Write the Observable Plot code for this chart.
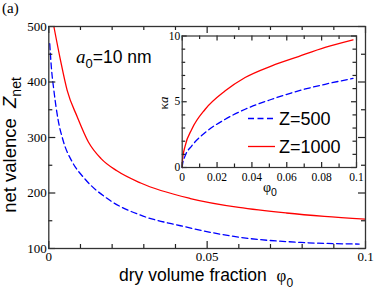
<!DOCTYPE html>
<html><head><meta charset="utf-8">
<script src="https://cdn.jsdelivr.net/npm/d3@7"></script>
<script src="https://cdn.jsdelivr.net/npm/@observablehq/plot@0.6"></script>
<style>
body{margin:0;background:#fff}
#c{position:relative;width:374px;height:291px;overflow:hidden}
#c svg{position:absolute}
</style>
</head><body><div id="c"></div>
<script>
// ---- main panel data: net valence vs dry volume fraction ----
const mainPhi1000 = [0.0016,0.0037,0.0058,0.009,0.0125,0.0165,0.0215,0.029,0.0447,0.06,0.075,0.087,0.1];
const mainZ1000   = [500,439,385,337,292,262,240,218,190,174,164,158,153];
const mainPhi500  = [0.0003,0.0008,0.0016,0.003,0.0045,0.0075,0.011,0.0195,0.029,0.0416,0.0605,0.0795,0.098];
const mainZ500    = [469,427,385,330,295,255,228,186,160,141,120,111,108];
// ---- inset data: kappa*a vs phi0 ----
const insetPhi     = [0,0.0002,0.0017,0.0055,0.0132,0.0247,0.0361,0.0514,0.0667,0.082,0.098];
const insetKa1000  = [0,0.63,1.65,2.91,4.43,5.83,6.84,7.73,8.44,9.13,9.71];
const insetKa500   = [0,0.25,0.89,1.65,2.66,3.67,4.43,5.19,5.83,6.33,6.77];
// ---- ticks ----
const mainXMajor = [0,0.05,0.1];
const mainXMinor = [0.01,0.02,0.03,0.04,0.06,0.07,0.08,0.09];
const mainYMajor = [100,200,300,400,500];
const mainYMinor = [150,250,350,450];
const insetXMajor = [0,0.02,0.04,0.06,0.08,0.1];
const insetXMinor = [0.01,0.03,0.05,0.07,0.09];
const insetYMajor = [0,5,10];
const insetYMinor = [1,2,3,4,6,7,8,9];
const seriesLabels = ["Z=500","Z=1000"];

const RED = "#ff0000", BLUE = "#0000ff", AX = "#333", TK = "#222";
const SANS = "'Liberation Sans',Arial,Helvetica,sans-serif";
const SERIF = "'Liberation Serif','DejaVu Serif','Times New Roman',serif";
const fmt = d => String(d);

// inward ticks on all four sides, as rules clipped to a few pixels by insets
function tickMarks(xMaj, xMin, yMaj, yMin, lMaj, lMin, fw, fh) {
  const r = {stroke: TK, strokeWidth: 1.2};
  const xs = (t, L) => [
    Plot.ruleX(t, {...r, x: d => d, insetTop: fh - L}),
    Plot.ruleX(t, {...r, x: d => d, insetBottom: fh - L})
  ];
  const ys = (t, L) => [
    Plot.ruleY(t, {...r, y: d => d, insetRight: fw - L}),
    Plot.ruleY(t, {...r, y: d => d, insetLeft: fw - L})
  ];
  return [...xs(xMin, lMin), ...xs(xMaj, lMaj), ...ys(yMin, lMin), ...ys(yMaj, lMaj)];
}
function tickLabels(xMaj, yMaj, fs, padX, padY) {
  return [
    Plot.axisX(xMaj, {label: null, anchor: "bottom", tickSize: 0, tickPadding: padX, tickFormat: fmt, fontSize: fs, fontFamily: SERIF, fill: "#000"}),
    Plot.axisY(yMaj, {label: null, anchor: "left", tickSize: 0, tickPadding: padY, tickFormat: fmt, fontSize: fs, fontFamily: SERIF, fill: "#000"})
  ];
}

const M = {w: 374, h: 291, l: 48.3, r: 9, t: 26, b: 43};
const main = Plot.plot({
  width: M.w, height: M.h,
  marginLeft: M.l, marginRight: M.r, marginTop: M.t, marginBottom: M.b,
  style: {background: "transparent", fontFamily: SERIF, fontSize: "13px", color: "#000", overflow: "visible"},
  x: {domain: [0, 0.1], axis: null},
  y: {domain: [100, 500], axis: null},
  marks: [
    Plot.line(mainZ500, {x: mainPhi500, y: mainZ500, stroke: BLUE, strokeWidth: 1.3, strokeDasharray: "6,3.5", curve: "monotone-x", clip: true}),
    Plot.line(mainZ1000, {x: mainPhi1000, y: mainZ1000, stroke: RED, strokeWidth: 1.3, curve: "monotone-x", clip: true}),
    ...tickMarks(mainXMajor, mainXMinor, mainYMajor, mainYMinor, 7, 4, M.w - M.l - M.r, M.h - M.t - M.b),
    ...tickLabels(mainXMajor, mainYMajor, 13, 3, 2),
    Plot.frame({stroke: AX, strokeWidth: 1.3})
  ]
});
main.style.left = "0px"; main.style.top = "0px";

const I = {w: 215, h: 175, l: 31.7, r: 9, t: 10.5, b: 33};
const inset = Plot.plot({
  width: I.w, height: I.h,
  marginLeft: I.l, marginRight: I.r, marginTop: I.t, marginBottom: I.b,
  style: {background: "transparent", fontFamily: SERIF, fontSize: "11.5px", color: "#000", overflow: "visible"},
  x: {domain: [0, 0.1], axis: null},
  y: {domain: [0, 10], axis: null},
  marks: [
    Plot.frame({fill: "white", stroke: null}),
    Plot.line(insetKa500, {x: insetPhi, y: insetKa500, stroke: BLUE, strokeWidth: 1.3, strokeDasharray: "6,3.5", curve: "monotone-x"}),
    Plot.line(insetKa1000, {x: insetPhi, y: insetKa1000, stroke: RED, strokeWidth: 1.3, curve: "monotone-x"}),
    ...tickMarks(insetXMajor, insetXMinor, insetYMajor, insetYMinor, 5, 3.5, I.w - I.l - I.r, I.h - I.t - I.b),
    ...tickLabels(insetXMajor, insetYMajor, 11.5, 5, 2),
    Plot.frame({stroke: AX, strokeWidth: 1.2})
  ]
});
inset.style.left = "150px"; inset.style.top = "25px";

const c = document.getElementById("c");
c.appendChild(main);
c.appendChild(inset);

// ---- text overlay (labels, annotation, legend) ----
const ov = d3.select(c).append("svg").attr("width", 374).attr("height", 291)
  .style("left", "0px").style("top", "0px").style("overflow", "visible");

ov.append("text").attr("x", 2).attr("y", 13).attr("font-family", SERIF).attr("font-size", 15).text("(a)");

const ann = ov.append("text").attr("x", 76).attr("y", 63).attr("font-family", SANS).attr("font-size", 17.5);
ann.append("tspan").attr("font-family", SERIF).attr("font-style", "italic").attr("font-size", 19).text("a");
ann.append("tspan").attr("font-size", 13).attr("dy", 5).text("0");
ann.append("tspan").attr("dy", -5).text("=10 nm");

const xl = ov.append("text").attr("x", 119).attr("y", 281).attr("font-family", SANS).attr("font-size", 17.5);
xl.append("tspan").text("dry volume fraction\u00a0\u00a0");
xl.append("tspan").attr("font-family", SERIF).attr("font-size", 17).text("\u03c6");
xl.append("tspan").attr("font-size", 12).attr("dy", 6).text("0");

const yl = ov.append("text").attr("transform", "translate(16,145) rotate(-90)").attr("text-anchor", "middle")
  .attr("font-family", SANS).attr("font-size", 18.5);
yl.append("tspan").text("net valence\u00a0\u00a0");
yl.append("tspan").attr("font-style", "italic").text("Z");
yl.append("tspan").attr("font-size", 14).attr("dy", 5).text("net");

const kl = ov.append("text").attr("transform", "translate(168,103) rotate(-90)").attr("text-anchor", "middle")
  .attr("font-family", SERIF).attr("font-size", 13);
kl.append("tspan").text("\u03ba");
kl.append("tspan").attr("font-style", "italic").text("a");

const pl = ov.append("text").attr("x", 263).attr("y", 192).attr("font-family", SERIF).attr("font-size", 14);
pl.append("tspan").text("\u03c6");
pl.append("tspan").attr("font-family", SANS).attr("font-size", 10.5).attr("dy", 4).text("0");

// legend
const leg = [{y: 118.5, stroke: BLUE, dash: "6,3.5"}, {y: 146.5, stroke: RED, dash: null}];
leg.forEach((l, i) => {
  ov.append("line").attr("x1", 248).attr("x2", 275).attr("y1", l.y).attr("y2", l.y)
    .attr("stroke", l.stroke).attr("stroke-width", 1.3).attr("stroke-dasharray", l.dash);
  ov.append("text").attr("x", 279).attr("y", l.y + 6.5).attr("font-family", SANS).attr("font-size", 18)
    .text(seriesLabels[i]);
});
</script></body></html>
